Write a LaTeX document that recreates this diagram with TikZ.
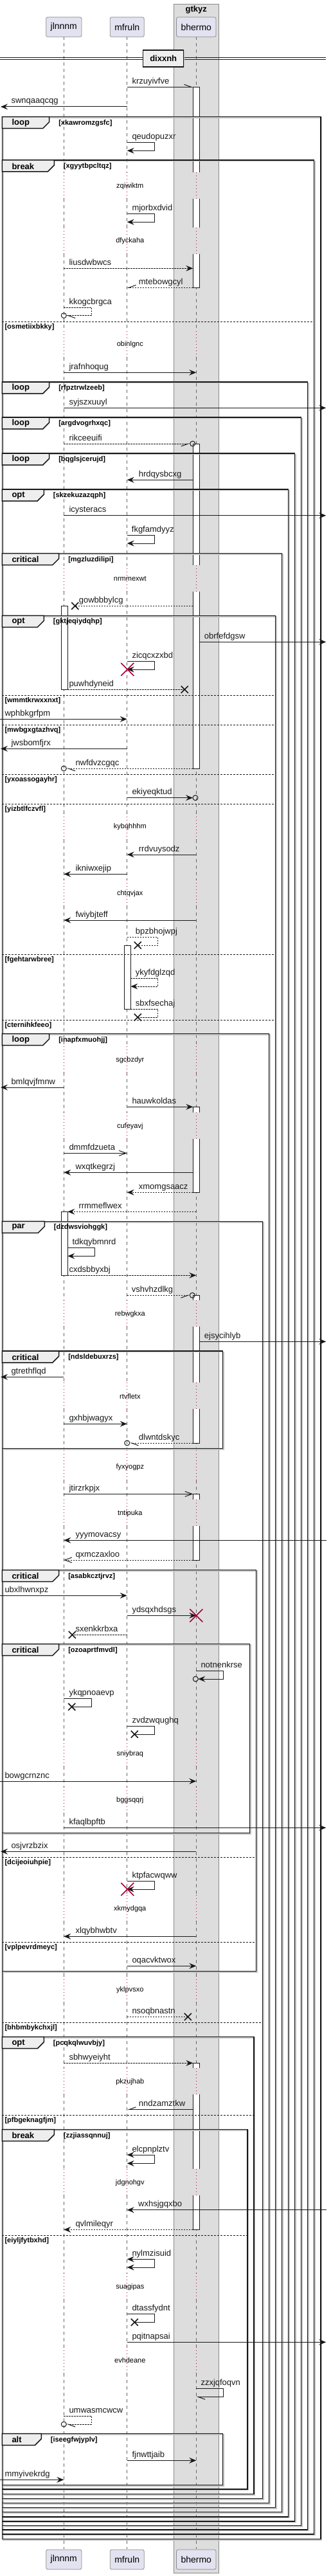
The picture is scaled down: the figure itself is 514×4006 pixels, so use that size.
\documentclass[tikz,border=0pt]{standalone}
\usepackage{fontspec}
\setmainfont{Liberation Sans}
\usetikzlibrary{arrows.meta}

\definecolor{partfill}{HTML}{E2E2F0}
\definecolor{partline}{HTML}{8C8C8C}
\definecolor{boxfill}{HTML}{DDDDDD}
\definecolor{boxline}{HTML}{888888}
\definecolor{tabfill}{HTML}{EEEEEE}
\definecolor{delayred}{HTML}{A80036}
\definecolor{inkline}{HTML}{181818}

% lifeline positions
\newcommand{\xJ}{99.3}
\newcommand{\xM}{197.7}
\newcommand{\xB}{305.3}

\newcounter{msgno}
\newcounter{frameno}
\newcounter{elseno}

\tikzset{
  msgline/.style={draw=inkline, line width=1pt},
  dashmsg/.style={dash pattern=on 2.5pt off 1.5pt},
  tipfill/.style={-{Stealth[length=11pt,width=9pt,inset=4pt]}},
  tipopen/.style={-{Straight Barb[length=11pt,width=8pt]}},
  halfleft/.style={-{Straight Barb[left,length=11pt,width=8pt]}},
  halfright/.style={-{Straight Barb[right,length=11pt,width=8pt]}},
  tipboth/.style={{Stealth[length=11pt,width=9pt,inset=4pt]}-{Stealth[length=11pt,width=9pt,inset=4pt]}},
  msglbl/.style={anchor=base west, inner sep=0pt, yshift=5pt, text=inkline,
    font=\fontsize{13}{15}\selectfont},
  delaytxt/.style={inner sep=0pt, font=\fontsize{11}{13}\selectfont},
  framekind/.style={anchor=west, inner sep=0pt, font=\bfseries\fontsize{13}{15}\selectfont},
  framecond/.style={anchor=west, inner sep=0pt, font=\bfseries\fontsize{11}{13}\selectfont},
  part/.style={draw=partline, fill=partfill, rounded corners=2.5pt, line width=0.8pt,
    minimum height=30.6pt, inner xsep=7pt, font=\fontsize{14}{16}\selectfont},
  lifeline/.style={draw=black!60, line width=0.8pt, dash pattern=on 5pt off 5pt},
  delayline/.style={draw=delayred, line width=0.8pt, dash pattern=on 1pt off 4pt},
  actbar/.style={draw=inkline, fill=white, line width=1pt},
  actline/.style={draw=inkline, line width=1pt},
  frameline/.style={draw=inkline, line width=1.5pt},
  frameshadow/.style={draw=black!25, line width=1.5pt, xshift=1.5pt, yshift=-1.5pt},
  elseline/.style={draw=inkline, line width=1pt, dash pattern=on 2.5pt off 2.5pt},
  xcross/.style={draw=inkline, line width=1.6pt},
  destroy/.style={draw=delayred, line width=1.6pt},
}

% message: [style]{y}{from}{to}{label x}{text}
\newcommand{\seqmsg}[6][]{%
  \draw[msgline,#1] (#3,#2) -- (#4,#2);
  \stepcounter{msgno}\node[msglbl] (msg\arabic{msgno}) at (#5,#2) {#6};}
% self message: [style]{y1}{y2}{from}{turn x}{end}{label x}{text}
\newcommand{\selfmsg}[8][]{%
  \draw[msgline,#1] (#4,#2) -- (#5,#2) -- (#5,#3) -- (#6,#3);
  \stepcounter{msgno}\node[msglbl] (msg\arabic{msgno}) at (#7,#2) {#8};}
\newcommand{\xhead}[2]{\draw[xcross] (#1-5.5,#2-5.5) -- (#1+5.5,#2+5.5) (#1-5.5,#2+5.5) -- (#1+5.5,#2-5.5);}
\newcommand{\destroyx}[2]{\draw[destroy] (#1-10,#2-10) -- (#1+10,#2+10) (#1-10,#2+10) -- (#1+10,#2-10);}
\newcommand{\ringend}[2]{\draw[msgline] (#1,#2) circle (4pt);}

% activation bars: {x centre}{y1}{y2}
\newcommand{\actclosed}[3]{\draw[actbar] (#1-5,#2) rectangle (#1+5,#3);}
\newcommand{\acttop}[3]{\fill[white] (#1-5,#2) rectangle (#1+5,#3);
  \draw[actline] (#1-5,#3) -- (#1-5,#2) -- (#1+5,#2) -- (#1+5,#3);}
\newcommand{\actbottom}[3]{\fill[white] (#1-5,#2) rectangle (#1+5,#3);
  \draw[actline] (#1-5,#2) -- (#1-5,#3) -- (#1+5,#3) -- (#1+5,#2);}
\newcommand{\actopen}[3]{\fill[white] (#1-5,#2) rectangle (#1+5,#3);
  \draw[actline] (#1-5,#2) -- (#1-5,#3) (#1+5,#2) -- (#1+5,#3);}

% group frame: {top}{bottom}{right}{tab right}{kind}{condition}
\newcommand{\seqframe}[6]{%
  \stepcounter{frameno}
  \draw[frameshadow] (3.3,#1) rectangle (#3,#2);
  \draw[frameline] (3.3,#1) rectangle (#3,#2);
  \draw[frameline, fill=tabfill] (3.3,#1) -- (#4,#1) -- (#4,#1+8) -- (#4-10,#1+18) -- (3.3,#1+18) -- cycle;
  \node[framekind] (kind\arabic{frameno}) at (18.3,#1+9.5) {#5};
  \node[framecond] (cond\arabic{frameno}) at (#4+14.4,#1+9.5) {#6};}
% else line: {y}{right}{condition}
\newcommand{\seqelse}[3]{%
  \stepcounter{elseno}
  \draw[elseline] (3.3,#1) -- (#2,#1);
  \node[framecond] (else\arabic{elseno}) at (7.3,#1+8.3) {#3};}

\begin{document}
\begin{tikzpicture}[x=1pt, y=-1pt]
  \useasboundingbox (0,0) rectangle (514,4006);

  % box round bhermo
  \draw[fill=boxfill, draw=boxline, line width=0.8pt] (270.3,6.3) rectangle (340.3,4001);
  \node[font=\bfseries\fontsize{13}{15}\selectfont, inner sep=0pt] (boxtitle) at (\xB,15) {gtkyz};

  % lifelines, dotted where the diagram waits
  \foreach \t [remember=\t as \lastt (initially 37.3)] in {289.3,375,536,900,1286,1389.3,1648.3,1751.3,2043.3,2171.3,2281.7,2353.3,2727.3,2800,2968.3,3094.3,3237.3,3394.3,3556.3,3671} {
    \foreach \x in {\xJ,\xM,\xB} {
      \draw[lifeline] (\x,\lastt+20) -- (\x,\t-21);
      \draw[delayline] (\x,\t-21) -- (\x,\t+20);
    }
  }
  \foreach \x in {\xJ,\xM,\xB} \draw[lifeline] (\x,3691) -- (\x,3964.3);

  \foreach \t/\txt [count=\i] in {289.3/zqiwiktm,375/dfyckaha,536/obinlgnc,900/nrmmexwt,1286/kybqhhhm,1389.3/chtqvjax,1648.3/sgcbzdyr,1751.3/cufeyavj,2043.3/rebwgkxa,2171.3/rtvfletx,2281.7/fyxyogpz,2353.3/tntipuka,2727.3/sniybraq,2800/bggsqqrj,2968.3/xkmydgqa,3094.3/yklpvsxo,3237.3/pkzujhab,3394.3/jdgnohgv,3556.3/suagipas,3671/evhdeane}
    \node[delaytxt] (delay\i) at (202.3,\t) {\txt};

  % participants
  \node[part] (jtop) at (\xJ,42) {jlnnnm};
  \node[part] (mtop) at (\xM,42) {mfruln};
  \node[part] (btop) at (\xB,42) {bhermo};
  \node[part] (jbot) at (\xJ,3980.3) {jlnnnm};
  \node[part] (mbot) at (\xM,3980.3) {mfruln};
  \node[part] (bbot) at (\xB,3980.3) {bhermo};

  % divider
  \draw[msgline] (0,90) -- (507.3,90) (0,92.7) -- (507.3,92.7);
  \fill[black!25] (224.2,79.5) rectangle (287.2,105.5);
  \node[draw=inkline, line width=1.5pt, fill=tabfill, minimum width=63pt, minimum height=26pt,
    inner sep=0pt, font=\bfseries\fontsize{13}{15}\selectfont] (divider) at (254.2,91) {dixxnh};

  % activations
  \acttop{\xB}{135.3}{268.3}
  \actopen{\xB}{309.3}{354}
  \actbottom{\xB}{395}{447.3}
  \acttop{\xB}{690}{879}
  \actbottom{\xB}{920}{1195}
  \acttop{\xB}{1721.3}{1730.3}
  \actbottom{\xB}{1771.3}{1854.3}
  \acttop{\xB}{2014.3}{2022.3}
  \actopen{\xB}{2063.3}{2150.3}
  \actbottom{\xB}{2191.3}{2244}
  \acttop{\xB}{2323.3}{2332.3}
  \actbottom{\xB}{2373.3}{2426}
  \acttop{\xB}{3208.3}{3216.3}
  \actopen{\xB}{3257.3}{3373.3}
  \actbottom{\xB}{3414.3}{3467.3}
  \actclosed{100.3}{942.3}{1072.3}
  \actclosed{100.3}{1884.3}{1983.3}
  \actclosed{198.3}{1470.3}{1569.3}

  % groups
  \seqframe{181.7}{3948.3}{499}{76.7}{loop}{[xkawromzgsfc]}
  \seqframe{249}{3941}{488.7}{84.3}{break}{[xgyytbpcltqz]}
  \seqelse{500}{488.7}{[osmetiixbkky]}
  \seqframe{594}{3934}{478.7}{76.7}{loop}{[rfpztrwlzeeb]}
  \seqframe{649}{3927.3}{468.7}{76.7}{loop}{[argdvogrhxqc]}
  \seqframe{705}{3920.7}{458.7}{76.7}{loop}{[bqglsjcerujd]}
  \seqframe{761}{3913.7}{448.7}{68.3}{opt}{[skzekuzazqph]}
  \seqframe{860.7}{3906.3}{438.7}{91.7}{critical}{[mgzluzdilipi]}
  \seqframe{957.3}{3899.3}{428.7}{68.3}{opt}{[gktjeqiydqhp]}
  \seqelse{1081.3}{428.7}{[wmmtkrwxxnxt]}
  \seqelse{1127.3}{428.7}{[mwbgxgtazhvq]}
  \seqelse{1204.3}{428.7}{[yxoassogayhr]}
  \seqelse{1250.3}{428.7}{[yizbtlfczvfl]}
  \seqelse{1484.3}{428.7}{[fgehtarwbree]}
  \seqelse{1586.3}{428.7}{[cternihkfeeo]}
  \seqframe{1607.7}{3892.3}{418.7}{76.7}{loop}{[inapfxmuohjj]}
  \seqframe{1899.3}{3885.3}{408.7}{69.3}{par}{[dzdwsviohggk]}
  \seqframe{2101}{2252.3}{346.7}{91.7}{critical}{[ndsldebuxrzs]}
  \seqframe{2441.7}{3065.3}{398.7}{91.7}{critical}{[asabkcztjrvz]}
  \seqframe{2556.7}{2850.7}{388.7}{91.7}{critical}{[ozoaprtfmvdl]}
  \seqelse{2888.3}{398.7}{[dcijeoiuhpie]}
  \seqelse{3020}{398.7}{[vplpevrdmeyc]}
  \seqelse{3145.3}{408.7}{[bhbmbykchxjl]}
  \seqframe{3167.7}{3878.3}{395}{68.3}{opt}{[pcqkqlwuvbjy]}
  \seqelse{3289.7}{395}{[pfbgeknagfjm]}
  \seqframe{3311.7}{3871}{385}{84.3}{break}{[zzjiassqnnuj]}
  \seqelse{3476.3}{385}{[eiyljfytbxhd]}
  \seqframe{3784.7}{3864.3}{346.7}{64.3}{alt}{[iseegfwjyplv]}

  % messages
  \seqmsg[halfleft]{135.3}{\xM}{300.3}{205.3}{krzuyivfve}
  \seqmsg[tipfill]{166}{\xM}{1}{17.3}{swnqaaqcqg}
  \selfmsg[tipfill]{221.7}{234.3}{\xM}{240.3}{\xM}{205.3}{qeudopuzxr}
  \selfmsg[tipfill]{332.3}{345.3}{\xM}{240.3}{\xM}{205.3}{mjorbxdvid}
  \seqmsg[dashmsg,tipfill]{417.3}{\xJ}{300.3}{107.3}{liusdwbwcs}
  \seqmsg[dashmsg,halfright]{447.3}{300.3}{\xM}{215.7}{mtebowgcyl}
  \selfmsg[dashmsg,halfleft]{478.3}{490.7}{\xJ}{142.7}{103.3}{107.3}{kkogcbrgca}
  \ringend{\xJ}{490.7}
  \seqmsg[tipfill]{579.3}{\xJ}{\xB}{107.3}{jrafnhoqug}
  \seqmsg[tipfill]{634.3}{\xJ}{507.3}{107.3}{syjszxuuyl}
  \seqmsg[dashmsg,halfright]{690}{\xJ}{295.7}{107.3}{rikceeuifi}
  \ringend{299.7}{690}
  \seqmsg[tipfill]{746.3}{300.3}{\xM}{215.7}{hrdqysbcxg}
  \seqmsg[tipfill]{801.7}{\xJ}{507.3}{107.3}{icysteracs}
  \selfmsg[tipfill]{832.7}{845}{\xM}{240.3}{\xM}{204.7}{fkgfamdyyz}
  \seqmsg[dashmsg]{942.3}{300.3}{116.7}{122.7}{gowbbbylcg}
  \xhead{116.7}{942.3}
  \seqmsg[tipfill]{998.3}{310.3}{507.3}{317.7}{obrfefdgsw}
  \selfmsg[tipfill]{1028.3}{1041}{\xM}{240.3}{\xM}{205.3}{zicqcxzxbd}
  \destroyx{198.3}{1041}
  \seqmsg[dashmsg]{1072.3}{105.3}{287.3}{107.3}{puwhdyneid}
  \xhead{287.3}{1072.3}
  \seqmsg[tipfill]{1118.3}{0}{\xM}{7.3}{wphbkgrfpm}
  \seqmsg[tipfill]{1164.3}{\xM}{1}{17.3}{jwsbomfjrx}
  \seqmsg[dashmsg,halfleft]{1195}{300.3}{103.3}{117.3}{nwfdvzcgqc}
  \ringend{\xJ}{1195}
  \seqmsg[tipfill]{1240.7}{\xM}{300}{205.3}{ekiyeqktud}
  \ringend{304}{1240.7}
  \seqmsg[tipfill]{1329}{\xB}{\xM}{215.7}{rrdvuysodz}
  \seqmsg[tipfill]{1359.3}{\xM}{\xJ}{117.3}{ikniwxejip}
  \seqmsg[tipfill]{1431}{\xB}{\xJ}{117.3}{fwiybjteff}
  \selfmsg[dashmsg]{1457.7}{1470}{\xM}{245.7}{214.3}{210.7}{bpzbhojwpj}
  \xhead{214.3}{1470}
  \selfmsg[dashmsg,tipfill]{1521.3}{1534}{203.3}{245.7}{203.3}{210.7}{ykyfdglzqd}
  \selfmsg[dashmsg]{1569.3}{1582}{203.3}{245.7}{214.3}{210.7}{sbxfsechaj}
  \xhead{214.3}{1582}
  \seqmsg[tipfill]{1691}{\xJ}{1}{17.3}{bmlqvjfmnw}
  \seqmsg[tipfill]{1721.3}{\xM}{300.3}{205.3}{hauwkoldas}
  \seqmsg[tipopen]{1793.3}{\xJ}{\xM}{107.3}{dmmfdzueta}
  \seqmsg[tipfill]{1823.3}{300.3}{\xJ}{117.3}{wxqtkegrzj}
  \seqmsg[dashmsg,tipfill]{1854.3}{300.3}{\xM}{215.7}{xmomgsaacz}
  \seqmsg[dashmsg,tipfill]{1884.3}{\xB}{105.3}{122.3}{rrmmeflwex}
  \selfmsg[tipfill]{1940.7}{1953.3}{105.3}{147.3}{105.3}{112.3}{tdkqybmnrd}
  \seqmsg[dashmsg,tipfill]{1983.3}{105.3}{\xB}{107.3}{cxdsbbyxbj}
  \seqmsg[dashmsg,halfright]{2014.3}{\xM}{295.3}{204.7}{vshvhzdlkg}
  \ringend{299.3}{2014.3}
  \seqmsg[tipfill]{2086.3}{310.3}{507.3}{317.7}{ejsycihlyb}
  \seqmsg[tipfill]{2141.3}{\xJ}{1}{17.3}{gtrethflqd}
  \seqmsg[tipfill]{2214.3}{\xJ}{\xM}{107.3}{gxhbjwagyx}
  \seqmsg[dashmsg,halfleft]{2244}{300.3}{201.7}{215.7}{dlwntdskyc}
  \ringend{\xM}{2244}
  \seqmsg[tipopen]{2323.3}{\xJ}{300.3}{107.3}{jtirzrkpjx}
  \seqmsg[tipfill]{2395.3}{508}{\xJ}{117.3}{yyymovacsy}
  \seqmsg[dashmsg,tipopen]{2426}{300.3}{\xJ}{117.3}{qxmczaxloo}
  \seqmsg[tipfill]{2481.3}{0}{\xM}{7.3}{ubxlhwnxpz}
  \seqmsg[tipfill]{2512.3}{\xM}{\xB}{205.3}{ydsqxhdsgs}
  \destroyx{\xB}{2512.3}
  \seqmsg[dashmsg]{2542.3}{\xM}{112.3}{117.3}{sxenkkrbxa}
  \xhead{112.3}{2542.3}
  \selfmsg[tipfill]{2598.3}{2611}{\xB}{347.7}{308.3}{312.3}{notnenkrse}
  \ringend{304.3}{2611}
  \selfmsg{2641.3}{2654.3}{\xJ}{142.7}{111.7}{107.3}{ykqpnoaevp}
  \xhead{111.7}{2654.3}
  \selfmsg{2684.3}{2697}{\xM}{240.3}{209.3}{205.3}{zvdzwqughq}
  \xhead{209.3}{2697}
  \seqmsg[tipfill]{2770}{0}{\xB}{7.3}{bowgcrnznc}
  \seqmsg[tipfill]{2842.3}{\xJ}{507.3}{107.3}{kfaqlbpftb}
  \seqmsg[tipfill]{2879.3}{\xB}{1}{17.3}{osjvrzbzix}
  \selfmsg[tipfill]{2925.3}{2938}{\xM}{240.3}{\xM}{205.3}{ktpfacwqww}
  \destroyx{198.3}{2938}
  \seqmsg[tipfill]{3011.3}{\xB}{\xJ}{117.3}{xlqybhwbtv}
  \seqmsg[tipfill]{3057.3}{\xM}{\xB}{205.3}{oqacvktwox}
  \seqmsg[dashmsg]{3136.3}{\xM}{292.3}{205.3}{nsoqbnastn}
  \xhead{292.3}{3136.3}
  \seqmsg[dashmsg,tipfill]{3208.3}{\xJ}{300.3}{107.3}{sbhwyeiyht}
  \seqmsg[halfright]{3280.7}{300.3}{\xM}{215.7}{nndzamztkw}
  \selfmsg[tipboth]{3351}{3364.3}{\xM}{240.3}{\xM}{205.3}{elcpnplztv}
  \seqmsg[tipfill]{3436.7}{508}{\xM}{215}{wxhsjgqxbo}
  \seqmsg[dashmsg,tipfill]{3467.3}{300.3}{\xJ}{117.3}{qvlmileqyr}
  \selfmsg[tipboth]{3513.3}{3526}{\xM}{240.3}{\xM}{205.3}{nylmzisuid}
  \selfmsg{3598.3}{3611.3}{\xM}{240.3}{209.3}{205.3}{dtassfydnt}
  \xhead{209.3}{3611.3}
  \seqmsg[tipfill]{3642.3}{\xM}{507.3}{205.3}{pqitnapsai}
  \selfmsg[halfleft]{3714.3}{3727.3}{\xB}{347.7}{\xB}{312.3}{zzxjqfoqvn}
  \selfmsg[dashmsg,halfleft]{3757.3}{3770}{\xJ}{142.7}{103.3}{107.3}{umwasmcwcw}
  \ringend{\xJ}{3770}
  \seqmsg[tipfill]{3826.3}{\xM}{\xB}{205.3}{fjnwttjaib}
  \seqmsg[tipfill]{3856.3}{0}{\xJ}{7.3}{mmyivekrdg}
\end{tikzpicture}
\end{document}
